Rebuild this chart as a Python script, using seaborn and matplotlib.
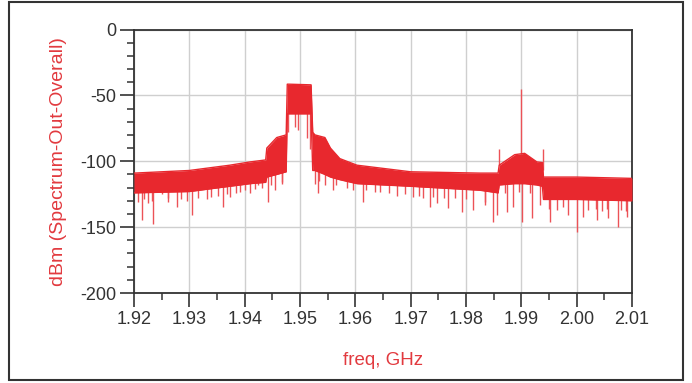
import numpy as np
import pandas as pd
import matplotlib
matplotlib.use("Agg")
import matplotlib.pyplot as plt
import seaborn as sns
from matplotlib.patches import Rectangle
from matplotlib.ticker import MultipleLocator

# ---- data ----
env_freq = [1.9200, 1.9300, 1.9373, 1.9410, 1.9438, 1.9440, 1.9458, 1.9475, 1.9477,
            1.9480, 1.9520, 1.9523, 1.9527, 1.9545, 1.9555, 1.9572, 1.9603, 1.9700,
            1.9825, 1.9858, 1.9860, 1.9888, 1.9906, 1.9928, 1.9938, 1.9940, 2.0000, 2.0100]
env_upper = [-109, -107, -103, -100.5, -99, -90, -82, -80, -41.5,
             -41.5, -42, -78, -80, -82, -90, -98, -103, -108,
             -109, -109, -103, -95, -94, -100.5, -101, -112, -112, -113]
env_lower = [-124, -123, -119, -117, -116, -112, -110, -108, -64,
             -64, -64, -107, -107, -110, -112, -114, -117, -119,
             -122, -124, -118, -117, -117, -118, -119, -129, -129, -130]

# deep downward spikes
spike_freq = [1.92145, 1.92253, 1.92343, 1.92506, 1.92614, 1.92777, 1.93048, 1.93319,
              1.93608, 1.93735, 1.93915, 1.94096, 1.94241, 1.94421, 1.94548, 1.94674,
              1.94783, 1.94909, 1.94963, 1.95126, 1.95180, 1.95271, 1.95325, 1.95451,
              1.95596, 1.95957, 1.96138, 1.96445, 1.96752, 1.97041, 1.97222, 1.97349,
              1.97475, 1.97674, 1.97927, 1.98126, 1.98343, 1.98487, 1.98559, 1.98740,
              1.98849, 1.99011, 1.99192, 1.99336, 1.99517, 1.99842, 2.00005, 2.00113,
              2.00366, 2.00565, 2.00746, 2.00909, 2.00999]
spike_low = [-144.6, -132, -148, -125, -128, -134.7, -140.8, -129,
             -134.7, -127, -123, -124, -118, -131, -122, -117,
             -78, -74, -76, -82, -91, -117, -124, -118,
             -122, -122, -131, -123, -126, -127, -128, -134.5,
             -132, -135.6, -138.5, -137, -133, -146, -141, -138.5,
             -134.5, -146, -143, -133, -146, -141, -153.5, -142,
             -144.6, -143, -150, -142, -161]

# shorter spikes that make the ragged lower edge of the band
short_freq = [1.9207, 1.9218, 1.9232, 1.9262, 1.9285, 1.9295, 1.9315, 1.9340,
              1.9352, 1.9368, 1.9385, 1.9400, 1.9418, 1.9432, 1.9447, 1.9468,
              1.9535, 1.9565, 1.9585, 1.9620, 1.9635, 1.9660, 1.9690, 1.9715,
              1.9740, 1.9760, 1.9780, 1.9800, 1.9835, 1.9870, 1.9895, 1.9915,
              1.9950, 1.9965, 1.9975, 2.0020, 2.0035, 2.0045, 2.0055, 2.0080, 2.0090]
short_low = [-131, -129, -130, -131, -129, -130, -128, -127,
             -126, -125, -124, -122, -121, -120, -118, -116,
             -115, -118, -120, -122, -123, -124, -125, -126,
             -127, -128, -128, -129, -131, -124, -123, -124,
             -136, -137, -135, -137, -136, -138, -136, -137, -138]

up_freq = [1.9860, 1.9900, 1.9939]
up_high = [-91, -45, -91]

xticks = [1.92, 1.93, 1.94, 1.95, 1.96, 1.97, 1.98, 1.99, 2.00, 2.01]
xtick_labels = ["1.92", "1.93", "1.94", "1.95", "1.96", "1.97", "1.98", "1.99", "2.00", "2.01"]
yticks = [0, -50, -100, -150, -200]
ytick_labels = ["0", "-50", "-100", "-150", "-200"]

# ---- style ----
sns.set_theme(style="white")
plt.rcParams["font.family"] = ["Liberation Sans", "DejaVu Sans"]
plt.rcParams["axes.unicode_minus"] = False

RED = "#e8282e"
SPIKE = "#ec5257"
LABEL_RED = "#e23a3f"
DARK = "#333333"

fig = plt.figure(figsize=(6.92, 3.83), dpi=100)
ax = fig.add_axes([134 / 692, 1 - 293 / 383, (632 - 134) / 692, (293 - 29.5) / 383])

env = pd.DataFrame({"freq": env_freq, "upper": env_upper, "lower": env_lower})
spk = pd.DataFrame({"freq": spike_freq + short_freq, "low": spike_low + short_low})
ups = pd.DataFrame({"freq": up_freq, "high": up_high})

base_at_spk = np.interp(spk["freq"], env["freq"], env["lower"])
ax.vlines(spk["freq"], spk["low"], base_at_spk + 4, color=SPIKE, lw=1.0, zorder=2)
base_up = np.interp(ups["freq"], env["freq"], env["upper"])
ax.vlines(ups["freq"], base_up, ups["high"], color=SPIKE, lw=1.0, zorder=2)

ax.fill_between(env["freq"], env["lower"], env["upper"], color=RED, lw=0, zorder=3)
sns.lineplot(data=env, x="freq", y="upper", ax=ax, color=RED, lw=1.0, zorder=3)
sns.lineplot(data=env, x="freq", y="lower", ax=ax, color=RED, lw=1.0, zorder=3)

ax.set_xlim(1.92, 2.01)
ax.set_ylim(-200, 0)
ax.set_xticks(xticks)
ax.set_xticklabels(xtick_labels)
ax.set_yticks(yticks)
ax.set_yticklabels(ytick_labels)
ax.xaxis.set_minor_locator(MultipleLocator(0.005))
ax.yaxis.set_minor_locator(MultipleLocator(10))

ax.grid(True, which="major", color="#cfcfcf", lw=1.0, zorder=0)
ax.set_axisbelow(True)
for s in ax.spines.values():
    s.set_visible(True)
    s.set_color(DARK)
    s.set_linewidth(1.3)

ax.tick_params(which="major", direction="out", length=10, width=1.2, color=DARK,
               labelsize=13, labelcolor="#333333", pad=3,
               bottom=True, left=True, top=False, right=False)
ax.tick_params(which="minor", direction="out", length=5, width=1.1, color=DARK,
               bottom=True, left=True, top=False, right=False)

ax.set_xlabel("freq, GHz", color=LABEL_RED, fontsize=13.5, labelpad=17)
ax.set_ylabel("dBm (Spectrum-Out-Overall)", color=LABEL_RED, fontsize=14, labelpad=9)

fig.patches.append(Rectangle((9 / 692, 1 - 380 / 383), (683 - 9) / 692, (380 - 2) / 383,
                             transform=fig.transFigure, fill=False,
                             edgecolor=DARK, lw=1.5))

fig.savefig("out.png", dpi=100)
